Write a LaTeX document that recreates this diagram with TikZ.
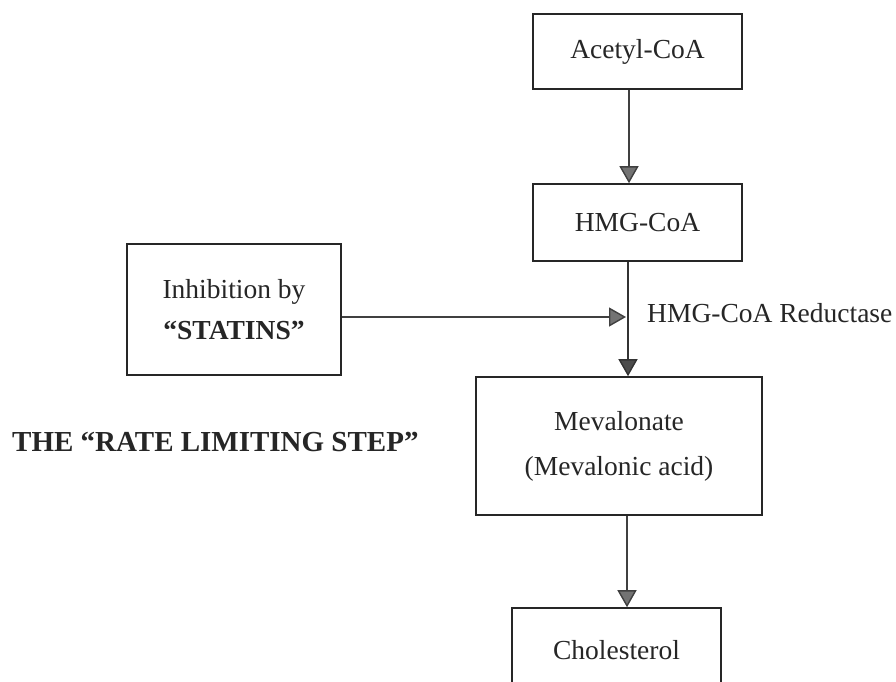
\documentclass[tikz,border=0pt]{standalone}
\usepackage{fontspec}
\setmainfont{Liberation Serif}
\usetikzlibrary{arrows.meta,calc}
\begin{document}
\begin{tikzpicture}[x=1pt,y=-1pt,
  box/.style={draw=black!85,line width=1.6pt,inner sep=0pt,font=\fontsize{27.5}{31}\selectfont,text=black!85,align=center},
  lbl/.style={inner sep=0pt,font=\fontsize{27.5}{31}\selectfont,text=black!85},
  arr/.style={draw=black!75,line width=1.4pt,-{Triangle[length=17pt,width=19pt,fill=black!55]},color=black!75},
  darr/.style={draw=black!80,line width=1.4pt,-{Triangle[length=17pt,width=19pt,fill=black!70]}}]
\fill[white] (0,0) rectangle (896,681);
\useasboundingbox (0,0) rectangle (896,681);
\node[box,minimum width=209pt,minimum height=75pt] (acetyl) at (637.5,51.5) {Acetyl-CoA};
\node[box,minimum width=209pt,minimum height=77pt] (hmg) at (637.5,222.5) {HMG-CoA};
\node[box,minimum width=214pt,minimum height=131pt] (inhib) at (234,309.5) {Inhibition by\\[10pt]\textbf{“STATINS”}};
\node[box,minimum width=286pt,minimum height=138pt] (meval) at (619,446) {Mevalonate\\[14pt](Mevalonic acid)};
\node[box,minimum width=209pt,minimum height=84pt] (chol) at (616.5,650) {Cholesterol};
\node[lbl,anchor=west] (red) at (647,313) {HMG-CoA Reductase};
\node[lbl,anchor=west,font=\fontsize{29}{31}\selectfont\bfseries] (rls) at (12,442) {THE “RATE LIMITING STEP”};
\coordinate (vline) at ([xshift=-9.5pt]hmg.south);
\draw[arr] ([xshift=-8.5pt]acetyl.south) -- ([xshift=-8.5pt]acetyl.south |- hmg.north);
\draw[darr] (vline) -- (vline |- meval.north);
\draw[arr,shorten >=2pt] ([yshift=-7.5pt]inhib.east) -- ([yshift=-7.5pt]inhib.east -| vline);
\draw[arr] ([xshift=8pt]meval.south) -- ([xshift=8pt]meval.south |- chol.north);
\end{tikzpicture}
\end{document}
